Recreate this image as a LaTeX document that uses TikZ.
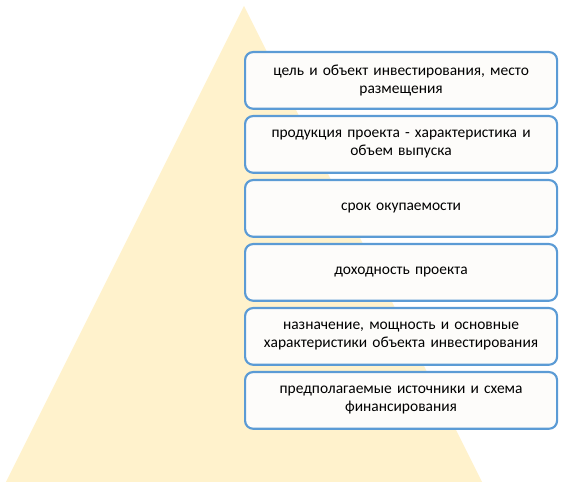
\documentclass[tikz,border=0pt]{standalone}
\usepackage{fontspec}
\setmainfont{Carlito}
\definecolor{tri}{RGB}{255,242,204}
\definecolor{boxline}{RGB}{91,155,213}
\definecolor{boxfill}{RGB}{253,252,250}
\begin{document}
\begin{tikzpicture}[x=0.75pt,y=-0.75pt,
  item/.style={draw=boxline,line width=1.6pt,fill=boxfill,rounded corners=6pt,
    minimum width=234pt,minimum height=42.5pt,text width=232pt,align=center,
    inner sep=0pt,font=\fontsize{11.6pt}{13.6pt}\selectfont,anchor=north west}]
\useasboundingbox (0,0) rectangle (561,484);
\fill[tri] (244,6) -- (482,482) -- (6,482) -- cycle;
\node[item] (b1) at (244,51) {цель и объект инвестирования, место\\размещения};
\node[item] (b2) at (244,115) {продукция проекта - характеристика и\\объем выпуска};
\node[item] (b3) at (244,179) {срок окупаемости};
\node[item] (b4) at (244,243) {доходность проекта};
\node[item] (b5) at (244,307) {назначение, мощность и основные\\характеристики объекта инвестирования};
\node[item] (b6) at (244,371) {предполагаемые источники и схема\\финансирования};
\end{tikzpicture}
\end{document}
